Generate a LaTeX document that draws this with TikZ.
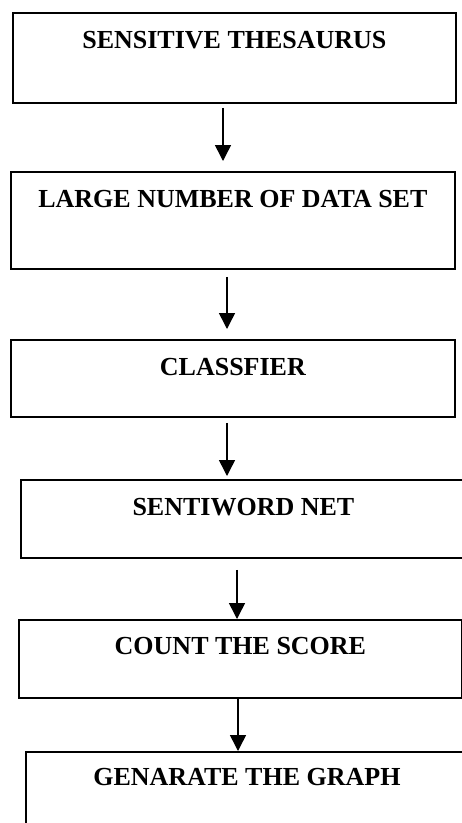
\documentclass[tikz,border=0pt]{standalone}
\usepackage{fontspec}
\setmainfont{Liberation Serif}
\usetikzlibrary{arrows.meta}
\begin{document}
\begin{tikzpicture}[x=1pt,y=-1pt,
  stage/.style={draw=black, line width=1.8pt, rectangle, anchor=north west,
    inner sep=0pt, align=center, text height=36pt,
    font=\fontsize{26}{30}\selectfont\bfseries},
  flow/.style={line width=1.5pt, -{Triangle[length=16pt,width=16pt]}}]
\path[use as bounding box] (0,0) rectangle (462,823);
\clip (0,0) rectangle (462,823);
\fill[white] (0,0) rectangle (462,823);

% process stages (text sits near the top of each box)
\node[stage, minimum width=443pt, minimum height=90pt, text depth=54pt] (b1) at (12,12) {SENSITIVE THESAURUS};
\node[stage, minimum width=444pt, minimum height=97pt, text depth=61pt] (b2) at (10,171) {LARGE NUMBER OF DATA SET};
\node[stage, minimum width=444pt, minimum height=77pt, text depth=41pt] (b3) at (10,339) {CLASSFIER};
\node[stage, minimum width=445pt, minimum height=78pt, text depth=42pt] (b4) at (20,479) {SENTIWORD NET};
\node[stage, minimum width=443pt, minimum height=78pt, text depth=43pt, text height=35pt] (b5) at (18,619) {COUNT THE SCORE};
\node[stage, minimum width=442pt, minimum height=100pt, text depth=66pt, text height=34pt] (b6) at (25,751) {GENARATE THE GRAPH};

% columns of the connecting arrows
\coordinate (c1) at (223,0);
\coordinate (c2) at (227,0);
\coordinate (c3) at (227,0);
\coordinate (c4) at (237,0);
\coordinate (c5) at (238,0);

\draw[flow] ([yshift=-4pt]b1.south -| c1) -- ([yshift=10pt]b2.north -| c1);
\draw[flow] ([yshift=-7pt]b2.south -| c2) -- ([yshift=10pt]b3.north -| c2);
\draw[flow] ([yshift=-5pt]b3.south -| c3) -- ([yshift=3pt]b4.north -| c3);
\draw[flow] ([yshift=-11pt]b4.south -| c4) -- (b5.north -| c4);
\draw[flow] (b5.south -| c5) -- (b6.north -| c5);
\end{tikzpicture}
\end{document}
